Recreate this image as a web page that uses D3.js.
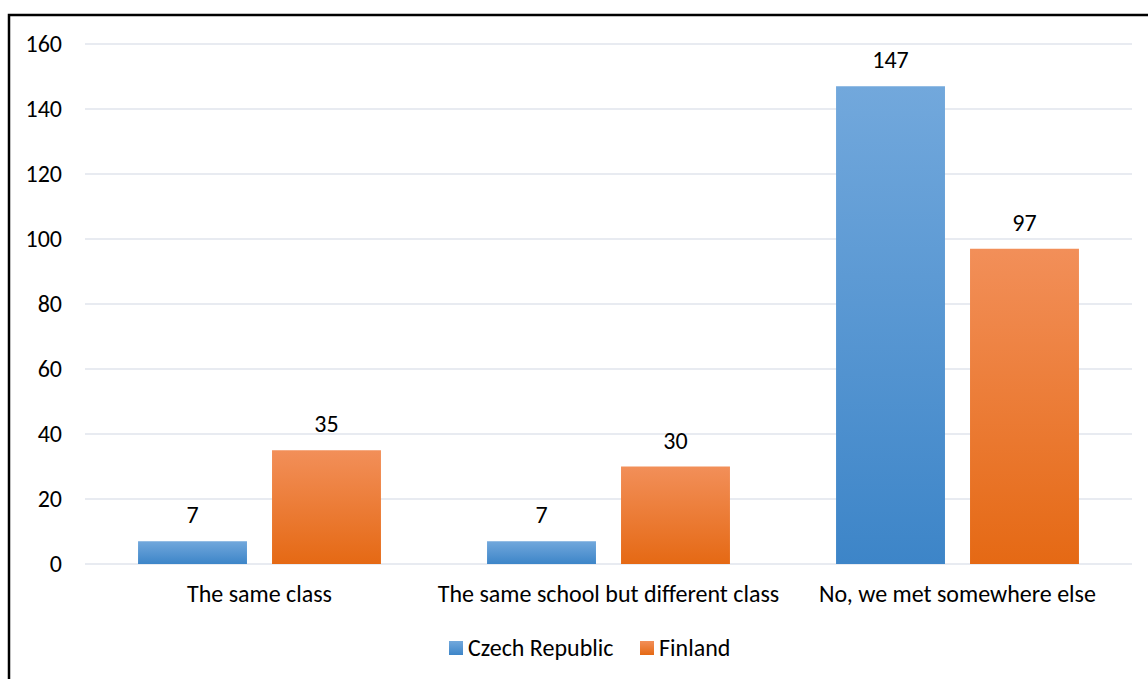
<!DOCTYPE html>
<html>
<head>
<meta charset="utf-8">
<script src="https://cdn.jsdelivr.net/npm/d3@7"></script>
<style>
  body { margin: 0; background: #fff; }
  svg { display: block; font-family: Carlito, Calibri, "Open Sans", sans-serif; }
</style>
</head>
<body>
<svg id="chart"></svg>
<script>
const categories = ["The same class", "The same school but different class", "No, we met somewhere else"]
const series = ["Czech Republic", "Finland"]
const czechValues = [7, 7, 147]
const finlandValues = [35, 30, 97]
const yTicks = [0, 20, 40, 60, 80, 100, 120, 140, 160]

const width = 1148, height = 679
const fs = 24
const svg = d3.select("#chart").attr("width", width).attr("height", height)

const defs = svg.append("defs")
function grad(id, top, bottom) {
  const g = defs.append("linearGradient").attr("id", id)
    .attr("x1", 0).attr("y1", 0).attr("x2", 0).attr("y2", 1)
  g.append("stop").attr("offset", "0%").attr("stop-color", top)
  g.append("stop").attr("offset", "100%").attr("stop-color", bottom)
}
grad("gBlue", "#72a8dc", "#3d85c8")
grad("gOrange", "#f28f59", "#e56914")
const fills = ["url(#gBlue)", "url(#gOrange)"]

// outer frame (runs off right / bottom)
svg.append("rect")
  .attr("x", 9).attr("y", 15)
  .attr("width", 1200).attr("height", 700)
  .attr("fill", "none").attr("stroke", "#000").attr("stroke-width", 2.5)

const y = d3.scaleLinear().domain([0, 160]).range([564, 44])
const x0 = d3.scaleBand().domain(categories).range([85, 1132])
  .paddingInner(0.304).paddingOuter(0.152)
const x1 = d3.scaleBand().domain(series).range([0, x0.bandwidth()])
  .paddingInner(0.187)

// grid
svg.append("g").selectAll("line")
  .data(yTicks)
  .enter()
  .append("line")
  .attr("x1", 85).attr("x2", 1132)
  .attr("y1", d => y(d)).attr("y2", d => y(d))
  .attr("stroke", "#e1e5ec").attr("stroke-width", 1.3)

// y labels
svg.append("g").selectAll("text")
  .data(yTicks)
  .enter()
  .append("text")
  .attr("x", 62)
  .attr("y", d => y(d))
  .attr("dy", "0.33em")
  .attr("text-anchor", "end")
  .attr("font-size", fs)
  .attr("fill", "#000")
  .text(d => d)

const rows = categories.map((c, i) => ({ cat: c, vals: [czechValues[i], finlandValues[i]] }))

const groups = svg.append("g").selectAll("g")
  .data(rows)
  .enter()
  .append("g")
  .attr("transform", d => `translate(${x0(d.cat)},0)`)

groups.selectAll("rect")
  .data(d => d.vals.map((v, i) => ({ s: series[i], v: v, i: i })))
  .enter()
  .append("rect")
  .attr("x", d => x1(d.s))
  .attr("y", d => y(d.v))
  .attr("width", x1.bandwidth())
  .attr("height", d => y(0) - y(d.v))
  .attr("fill", d => fills[d.i])

groups.selectAll("text")
  .data(d => d.vals.map((v, i) => ({ s: series[i], v: v })))
  .enter()
  .append("text")
  .attr("x", d => x1(d.s) + x1.bandwidth() / 2)
  .attr("y", d => y(d.v) - 18)
  .attr("text-anchor", "middle")
  .attr("font-size", fs)
  .text(d => d.v)

// category labels
svg.append("g").selectAll("text")
  .data(categories)
  .enter()
  .append("text")
  .attr("x", d => x0(d) + x0.bandwidth() / 2)
  .attr("y", 602)
  .attr("text-anchor", "middle")
  .attr("font-size", fs)
  .text(d => d)

// legend
const legend = svg.append("g")
const legX = [449, 640]
series.forEach((s, i) => {
  legend.append("rect")
    .attr("x", legX[i]).attr("y", 641)
    .attr("width", 14).attr("height", 14)
    .attr("fill", fills[i])
  legend.append("text")
    .attr("x", legX[i] + 19).attr("y", 656)
    .attr("font-size", fs)
    .text(s)
})
</script>
</body>
</html>
